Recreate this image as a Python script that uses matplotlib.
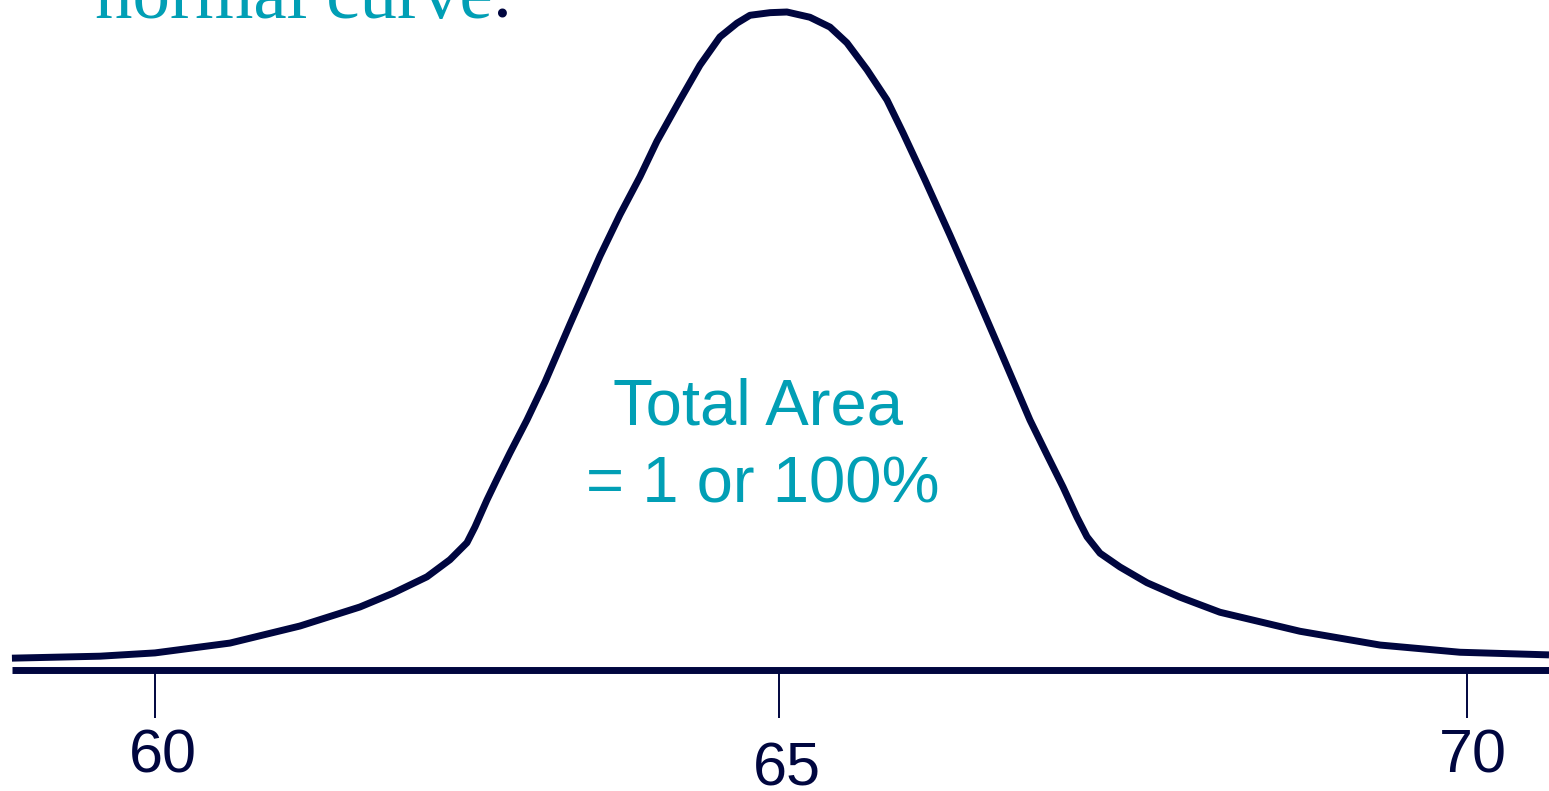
import matplotlib
matplotlib.use("Agg")
from matplotlib import pyplot as plt

NAVY = '#00063F'
TEAL = '#019FB5'

# curve: height (x) and relative frequency (y)
curve_x = [58.910, 59.581, 60.000, 60.572, 61.105, 61.562, 61.814, 62.073, 62.248,
           62.378, 62.439, 62.530, 62.607, 62.706, 62.835, 62.973, 63.163, 63.392,
           63.544, 63.697, 63.826, 64.002, 64.154, 64.306, 64.436, 64.535, 64.688,
           64.817, 64.992, 65.145, 65.274, 65.427, 65.579, 65.701, 65.869, 66.059,
           66.250, 66.440, 66.669, 66.799, 66.921, 67.027, 67.104, 67.203, 67.355,
           67.561, 67.812, 68.117, 68.727, 69.337, 69.947, 70.625]
curve_y = [0.018, 0.021, 0.026, 0.041, 0.067, 0.096, 0.117, 0.142, 0.168,
           0.194, 0.218, 0.259, 0.291, 0.331, 0.381, 0.439, 0.527, 0.631,
           0.694, 0.752, 0.806, 0.869, 0.922, 0.965, 0.986, 0.998, 1.002,
           1.003, 0.995, 0.980, 0.956, 0.915, 0.869, 0.819, 0.747, 0.663,
           0.576, 0.488, 0.381, 0.328, 0.279, 0.233, 0.203, 0.178, 0.157,
           0.133, 0.111, 0.088, 0.059, 0.038, 0.027, 0.023]

tick_pos = [60.0, 64.756, 70.0]
tick_labels = ['60', '65', '70']
label_x = [60.061, 64.817, 70.046]
label_y = [-0.157, -0.176, -0.157]

fig = plt.figure(figsize=(15.49, 7.91), dpi=100)
ax = fig.add_axes([0, 0, 1, 1])
ax.set_xlim(58.819, 70.625)
ax.set_ylim(-0.1845, 1.0213)
ax.axis('off')

# curve
ax.plot(curve_x, curve_y, color=NAVY, lw=5.0, solid_capstyle='butt',
        solid_joinstyle='round')

# baseline and ticks
ax.plot([58.910, 70.625], [0, 0], color=NAVY, lw=5.0, solid_capstyle='butt')
ax.vlines(tick_pos, -0.073, 0, color=NAVY, lw=1.4)
for x, y, lab in zip(label_x, label_y, tick_labels):
    ax.text(x, y, lab, ha='center', va='baseline', fontsize=44,
            family='Liberation Sans', color=NAVY)

# annotation in the middle
ax.text(64.596, 0.3735, 'Total Area', ha='center', va='baseline', fontsize=47,
        family='Liberation Sans', color=TEAL)
ax.text(64.634, 0.256, '= 1 or 100%', ha='center', va='baseline', fontsize=47,
        family='Liberation Sans', color=TEAL)

# title, cut off at the top of the slide
t = ax.text(59.543, 0.9939, 'normal curve', ha='left', va='baseline', fontsize=54,
            family='Liberation Serif', color=TEAL)
ax.annotate('.', xy=(1, 0), xycoords=t, ha='left', va='bottom', fontsize=54,
            family='Liberation Serif', color=NAVY)

plt.savefig('out.png', dpi=100)
